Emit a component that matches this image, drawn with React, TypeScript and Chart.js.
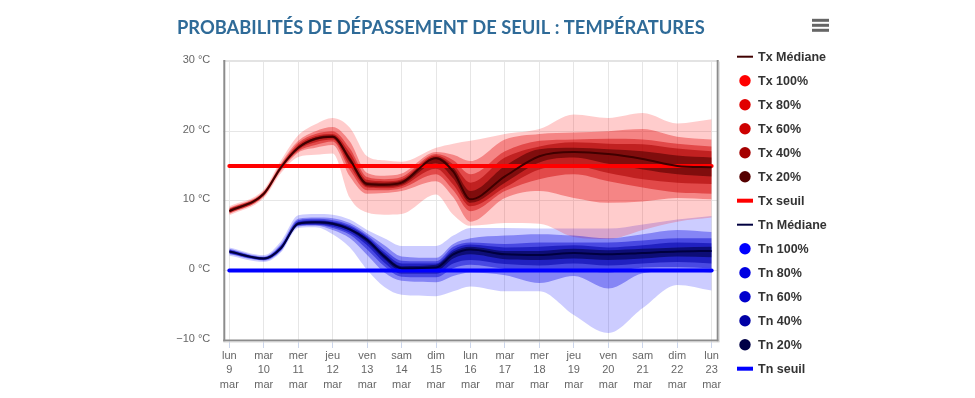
import { useEffect, useRef } from 'react';
import { Chart, registerables } from 'chart.js';

Chart.register(...registerables);

// ---------- data ----------
const days = [0, 1, 1.5, 2, 2.5, 3, 3.5, 4, 4.5, 5, 6, 6.5, 7, 8, 9, 10, 11, 12, 13, 14];
const dayNames = ['lun', 'mar', 'mer', 'jeu', 'ven', 'sam', 'dim', 'lun', 'mar', 'mer', 'jeu', 'ven', 'sam', 'dim', 'lun'];
const dayNumbers = ['9', '10', '11', '12', '13', '14', '15', '16', '17', '18', '19', '20', '21', '22', '23'];
const monthName = 'mar';
const yTicks = [-10, 0, 10, 20, 30];
const titleText = 'PROBABILITÉS DE DÉPASSEMENT DE SEUIL : TEMPÉRATURES';

const txSeuil = 15;
const tnSeuil = 0;

const txMedian = [8.5, 11.0, 14.8, 17.6, 18.9, 19.2, 15.9, 12.4, 12.3, 12.6, 16.1, 14.2, 10.2, 13.5, 16.4, 17.0, 16.7, 16.0, 15.0, 14.8];
const txHigh100 = [9.2, 11.6, 15.8, 19.4, 21.0, 21.9, 20.5, 16.4, 15.8, 15.6, 17.6, 18.2, 18.6, 19.6, 20.3, 22.4, 21.9, 22.6, 21.1, 21.7];
const txLow100 = [7.9, 10.4, 14.0, 16.3, 16.6, 16.8, 10.4, 8.3, 8.0, 8.1, 10.9, 8.0, 6.4, 6.8, 6.7, 4.8, 4.5, 5.8, 7.0, 7.6];
const txHigh80 = [9.0, 11.4, 15.4, 18.6, 20.0, 20.6, 18.5, 14.0, 13.6, 13.9, 17.0, 16.6, 15.7, 18.8, 19.6, 19.8, 20.0, 20.3, 19.2, 18.8];
const txLow80 = [8.1, 10.6, 14.3, 16.9, 17.6, 18.0, 13.5, 11.0, 11.1, 11.4, 12.8, 10.5, 7.0, 10.4, 11.4, 10.4, 9.7, 9.9, 10.4, 10.2];
const txHigh60 = [8.9, 11.3, 15.2, 18.3, 19.6, 20.0, 17.5, 13.4, 13.1, 13.4, 16.7, 15.8, 13.8, 17.1, 18.6, 18.8, 18.9, 18.8, 18.2, 17.8];
const txLow60 = [8.2, 10.7, 14.5, 17.1, 18.0, 18.5, 14.4, 11.5, 11.5, 11.8, 13.8, 11.5, 8.5, 11.4, 13.1, 13.8, 12.8, 11.9, 11.2, 11.0];
const txHigh40 = [8.8, 11.2, 15.0, 18.0, 19.3, 19.6, 16.9, 13.0, 12.8, 13.1, 16.5, 15.2, 12.6, 16.2, 17.8, 18.4, 18.2, 18.1, 17.5, 17.1];
const txLow40 = [8.3, 10.8, 14.6, 17.3, 18.4, 18.8, 15.0, 11.9, 11.8, 12.1, 14.6, 12.3, 9.2, 11.9, 14.5, 15.0, 14.0, 13.1, 12.6, 12.4];
const txHigh20 = [8.7, 11.1, 14.9, 17.8, 19.1, 19.4, 16.3, 12.7, 12.6, 12.9, 16.3, 14.8, 11.4, 15.0, 17.4, 17.6, 17.4, 17.1, 16.5, 16.2];
const txLow20 = [8.4, 10.9, 14.7, 17.45, 18.7, 19.0, 15.5, 12.1, 12.0, 12.3, 15.4, 13.2, 9.7, 12.6, 15.5, 16.2, 15.3, 14.5, 13.8, 13.5];

const tnMedian = [2.7, 1.7, 3.2, 6.7, 6.9, 6.7, 5.9, 4.4, 2.0, 0.3, 0.4, 2.3, 3.0, 2.3, 2.2, 2.5, 2.3, 2.5, 2.7, 2.8];
const tnHigh100 = [3.3, 2.2, 4.2, 7.9, 8.1, 8.0, 7.3, 5.8, 4.6, 3.5, 3.5, 5.0, 6.1, 6.1, 6.0, 6.0, 6.0, 6.6, 7.3, 7.8];
const tnLow100 = [2.1, 1.2, 2.6, 6.1, 6.2, 5.2, 3.3, 0.1, -2.4, -3.5, -3.7, -3.0, -2.3, -3.0, -3.0, -6.4, -9.0, -5.4, -2.1, -2.9];
const tnHigh80 = [3.1, 2.0, 3.8, 7.4, 7.6, 7.5, 6.8, 5.3, 3.6, 2.0, 1.8, 3.8, 4.6, 5.0, 5.2, 5.0, 4.6, 5.2, 5.8, 5.5];
const tnLow80 = [2.3, 1.4, 2.8, 6.3, 6.4, 5.8, 4.6, 2.2, -0.3, -1.5, -1.7, -0.8, -0.3, -0.7, -1.8, -0.8, -2.6, -0.4, -0.1, -0.3];
const tnHigh60 = [3.0, 1.9, 3.6, 7.2, 7.4, 7.2, 6.5, 5.0, 3.0, 1.4, 1.3, 3.4, 4.0, 3.8, 4.0, 4.0, 4.0, 4.3, 4.6, 4.6];
const tnLow60 = [2.4, 1.5, 2.9, 6.4, 6.5, 6.1, 5.1, 3.0, 0.6, -0.9, -1.0, 0.3, 0.8, 0.2, -0.2, 0.0, -0.3, 0.4, 0.5, 0.3];
const tnHigh40 = [2.9, 1.85, 3.5, 7.0, 7.2, 7.0, 6.3, 4.8, 2.6, 1.0, 1.0, 3.0, 3.7, 3.3, 3.4, 3.6, 3.3, 3.6, 4.0, 3.9];
const tnLow40 = [2.5, 1.55, 3.0, 6.5, 6.6, 6.3, 5.4, 3.6, 1.1, -0.5, -0.5, 1.0, 1.5, 0.9, 0.7, 1.0, 0.7, 1.0, 1.2, 1.0];
const tnHigh20 = [2.8, 1.8, 3.35, 6.9, 7.05, 6.9, 6.1, 4.6, 2.3, 0.6, 0.8, 2.7, 3.4, 2.8, 2.8, 3.1, 2.9, 3.1, 3.3, 3.4];
const tnLow20 = [2.6, 1.6, 3.05, 6.6, 6.75, 6.5, 5.7, 4.0, 1.6, -0.1, -0.1, 1.7, 2.3, 1.6, 1.5, 1.7, 1.5, 1.7, 2.0, 1.9];

// ---------- styles ----------
const FONT = '"Liberation Sans", Arial, sans-serif';
const levelStyles = [
  { key: '100%', tx: '255,0,0', tn: '0,0,255', alpha: 0.2, order: 10 },
  { key: '80%', tx: '225,0,0', tn: '0,0,225', alpha: 0.35, order: 9 },
  { key: '60%', tx: '205,0,0', tn: '0,0,205', alpha: 0.45, order: 8 },
  { key: '40%', tx: '165,0,0', tn: '0,0,165', alpha: 0.55, order: 7 },
  { key: '20%', tx: '85,0,0', tn: '0,0,70', alpha: 0.6, order: 6 },
];

const pts = (ys: number[]) => days.map((d, i) => ({ x: d, y: ys[i] }));
const flat = (v: number) => days.map((d) => ({ x: d, y: v }));

function buildDatasets() {
  const ds: any[] = [];
  const add = (d: any) => {
    ds.push({ pointRadius: 0, pointHoverRadius: 0, cubicInterpolationMode: 'monotone', ...d });
    return ds.length - 1;
  };
  const series = [
    {
      prefix: 'Tx', median: txMedian, medColor: '#400000', seuil: txSeuil, seuilColor: '#ff0000', rank: 0,
      bands: [[txHigh100, txLow100], [txHigh80, txLow80], [txHigh60, txLow60], [txHigh40, txLow40], [txHigh20, txLow20]],
      colorKey: 'tx',
    },
    {
      prefix: 'Tn', median: tnMedian, medColor: '#000040', seuil: tnSeuil, seuilColor: '#0000ff', rank: 7,
      bands: [[tnHigh100, tnLow100], [tnHigh80, tnLow80], [tnHigh60, tnLow60], [tnHigh40, tnLow40], [tnHigh20, tnLow20]],
      colorKey: 'tn',
    },
  ];
  for (const s of series) {
    add({
      label: `${s.prefix} Médiane`, data: pts(s.median), borderColor: s.medColor, borderWidth: 2, fill: false, order: 0,
      legendInfo: { rank: s.rank, kind: 'line', color: s.medColor, width: 2 },
    });
    add({
      label: `${s.prefix} seuil`, data: flat(s.seuil), borderColor: s.seuilColor, borderWidth: 4, fill: false, order: 1,
      borderCapStyle: 'round', cubicInterpolationMode: 'default', tension: 0,
      legendInfo: { rank: s.rank + 6, kind: 'line', color: s.seuilColor, width: 4 },
    });
    levelStyles.forEach((lv, li) => {
      const [hi, lo] = s.bands[li];
      const rgb = (lv as any)[s.colorKey];
      const lowIndex = ds.length + 1;
      add({
        label: `${s.prefix} ${lv.key}`, data: pts(hi), fill: lowIndex, backgroundColor: `rgba(${rgb},${lv.alpha})`,
        borderWidth: 0, borderColor: 'transparent', order: lv.order,
        legendInfo: { rank: s.rank + 1 + li, kind: 'dot', color: `rgb(${rgb})` },
      });
      add({ label: '', data: pts(lo), fill: false, borderWidth: 0, borderColor: 'transparent', order: lv.order });
    });
  }
  return ds;
}

const decorPlugin = {
  id: 'decor',
  afterDraw(chart: any) {
    const { ctx, chartArea: a } = chart;
    ctx.save();
    // plot border
    ctx.lineCap = 'butt';
    ctx.strokeStyle = '#e3e3e3';
    ctx.lineWidth = 2;
    ctx.beginPath(); ctx.moveTo(a.left, a.top - 0.5); ctx.lineTo(a.right, a.top - 0.5); ctx.stroke();
    ctx.strokeStyle = '#8c8c8c';
    ctx.lineWidth = 2;
    ctx.beginPath(); ctx.moveTo(a.left + 1, a.top - 1.5); ctx.lineTo(a.left + 1, a.bottom + 1.5); ctx.stroke();
    ctx.beginPath(); ctx.moveTo(a.left, a.bottom + 0.5); ctx.lineTo(a.right + 1.2, a.bottom + 0.5); ctx.stroke();
    ctx.beginPath(); ctx.moveTo(a.right + 0.2, a.top - 1.5); ctx.lineTo(a.right + 0.2, a.bottom + 1.5); ctx.stroke();
    ctx.strokeStyle = '#d8d8d8';
    ctx.lineWidth = 1;
    ctx.beginPath(); ctx.moveTo(a.right + 1.7, a.top); ctx.lineTo(a.right + 1.7, a.bottom + 2); ctx.stroke();
    ctx.beginPath(); ctx.moveTo(a.left, a.bottom + 2); ctx.lineTo(a.right + 2, a.bottom + 2); ctx.stroke();

    // title, sized to span the same width as the original
    ctx.textAlign = 'left';
    ctx.textBaseline = 'alphabetic';
    ctx.font = 'bold 17px Lato, "Liberation Sans", sans-serif';
    const w = ctx.measureText(titleText).width;
    const size = (17 * 528) / w;
    ctx.font = `bold ${size.toFixed(2)}px Lato, "Liberation Sans", sans-serif`;
    ctx.fillStyle = '#2f6b98';
    ctx.fillText(titleText, 169, 26);

    // menu icon
    ctx.strokeStyle = '#666666';
    ctx.lineWidth = 3;
    [12.3, 17.3, 22.3].forEach((y) => {
      ctx.beginPath(); ctx.moveTo(804, y); ctx.lineTo(821, y); ctx.stroke();
    });

    // legend
    const items = chart.data.datasets
      .filter((d: any) => d.legendInfo)
      .sort((p: any, q: any) => p.legendInfo.rank - q.legendInfo.rank);
    const x0 = a.right + 19.5;
    const y0 = a.top - 4.8;
    ctx.font = `bold 12.5px ${FONT}`;
    ctx.textBaseline = 'middle';
    items.forEach((d: any, i: number) => {
      const y = y0 + i * 24;
      const li = d.legendInfo;
      if (li.kind === 'line') {
        ctx.strokeStyle = li.color;
        ctx.lineWidth = li.width;
        ctx.beginPath(); ctx.moveTo(x0, y); ctx.lineTo(x0 + 16, y); ctx.stroke();
      } else {
        ctx.fillStyle = li.color;
        ctx.beginPath(); ctx.arc(x0 + 8, y, 5.7, 0, Math.PI * 2); ctx.fill();
      }
      ctx.fillStyle = '#333333';
      ctx.fillText(d.label, x0 + 21, y + 0.5);
    });
    ctx.restore();
  },
};

export default function App() {
  const ref = useRef<HTMLCanvasElement>(null);
  useEffect(() => {
    const chart = new Chart(ref.current as HTMLCanvasElement, {
      type: 'line',
      data: { datasets: buildDatasets() },
      options: {
        animation: false,
        responsive: false,
        devicePixelRatio: 1,
        layout: { padding: { left: 155.3, right: 249.5, top: 53.5, bottom: 0 } },
        plugins: { legend: { display: false }, tooltip: { enabled: false }, title: { display: false } },
        elements: { line: { borderJoinStyle: 'round' } },
        scales: {
          x: {
            type: 'linear',
            min: -0.175,
            max: 14.17,
            afterBuildTicks: (s: any) => { s.ticks = dayNames.map((_, i) => ({ value: i })); },
            afterFit: (s: any) => { s.height = 50; },
            grid: { color: '#e6e6e6', lineWidth: 1, drawTicks: true, tickLength: 8, tickColor: '#ccd6eb', tickWidth: 1 },
            border: { display: false },
            ticks: {
              autoSkip: false, maxRotation: 0, padding: 1, color: '#666666',
              font: { family: FONT, size: 11, lineHeight: 1.29 },
              callback: (v: any) => [dayNames[v], dayNumbers[v], monthName],
            },
          },
          y: {
            type: 'linear',
            min: -10,
            max: 30,
            afterBuildTicks: (s: any) => { s.ticks = yTicks.map((v) => ({ value: v })); },
            afterFit: (s: any) => { s.width = 60; },
            grid: { color: '#e6e6e6', lineWidth: 1, drawTicks: false },
            border: { display: false },
            ticks: {
              padding: 13, color: '#666666', labelOffset: -1.5,
              font: { family: FONT, size: 11 },
              callback: (v: any) => `${v < 0 ? '\u2212' + Math.abs(v) : v} °C`,
            },
          },
        },
      } as any,
      plugins: [decorPlugin],
    });
    return () => chart.destroy();
  }, []);
  return (
    <div style={{ position: 'relative', width: 959, height: 382 }}>
      <canvas ref={ref} width={959} height={382} style={{ display: 'block' }} />
    </div>
  );
}
